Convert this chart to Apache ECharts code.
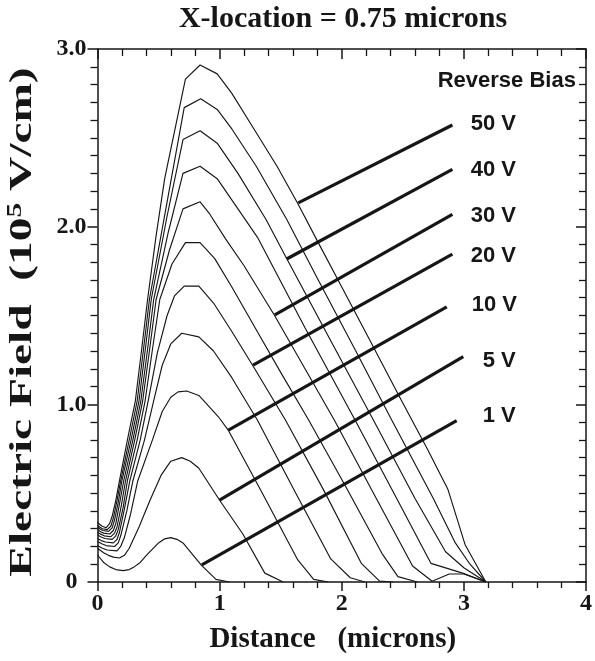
<!DOCTYPE html>
<html><head><meta charset="utf-8">
<script src="https://cdn.jsdelivr.net/npm/echarts/dist/echarts.min.js"></script>
<style>html,body{margin:0;padding:0;background:#fff}#c{width:595px;height:661px}</style>
</head><body><div id="c"></div>
<script>
// ---- Data (x in microns, y in 10^5 V/cm) ----
const xTickLabels = ['0', '1', '2', '3', '4'];
const yTickLabels = ['0', '1.0', '2.0', '3.0'];
const biasNames = ['1 V', '5 V', '10 V', '15 V', '20 V', '25 V', '30 V', '35 V', '40 V', '45 V', '50 V'];

const v1 = [[0,0.152],[0.05,0.11],[0.1,0.085],[0.15,0.07],[0.21,0.064],[0.26,0.07],[0.3,0.085],[0.35,0.11],[0.4,0.15],[0.5,0.22],[0.55,0.243],[0.6,0.25],[0.65,0.24],[0.7,0.22],[0.85,0.095],[0.97,0.015],[1.08,0]];
const v5 = [[0,0.19],[0.05,0.165],[0.09,0.15],[0.13,0.14],[0.18,0.135],[0.22,0.15],[0.26,0.19],[0.34,0.31],[0.43,0.46],[0.52,0.60],[0.60,0.68],[0.69,0.70],[0.76,0.68],[0.83,0.64],[1.0,0.46],[1.19,0.27],[1.37,0.05],[1.52,0]];
const v10 = [[0,0.205],[0.04,0.19],[0.08,0.18],[0.16,0.175],[0.19,0.20],[0.22,0.25],[0.27,0.38],[0.33,0.57],[0.45,0.80],[0.53,0.96],[0.60,1.04],[0.66,1.07],[0.73,1.075],[0.83,1.05],[0.99,0.93],[1.07,0.855],[1.35,0.50],[1.64,0.124],[1.77,0.015],[1.89,0]];
const v15 = [[0,0.228],[0.035,0.215],[0.07,0.205],[0.14,0.20],[0.17,0.22],[0.19,0.26],[0.24,0.40],[0.29,0.57],[0.385,0.80],[0.46,1.02],[0.53,1.22],[0.60,1.34],[0.69,1.40],[0.83,1.38],[0.95,1.30],[1.1,1.15],[1.31,0.91],[1.6,0.53],[1.91,0.13],[2.07,0.024],[2.19,0]];
const v20 = [[0,0.245],[0.03,0.233],[0.065,0.225],[0.13,0.22],[0.16,0.24],[0.18,0.28],[0.22,0.41],[0.265,0.57],[0.35,0.80],[0.415,1.02],[0.49,1.29],[0.57,1.50],[0.63,1.61],[0.71,1.665],[0.83,1.665],[0.95,1.57],[1.1,1.41],[1.27,1.22],[1.54,0.91],[1.85,0.52],[2.16,0.105],[2.31,0.005],[2.42,0]];
const v25 = [[0,0.265],[0.03,0.253],[0.06,0.245],[0.12,0.24],[0.15,0.26],[0.17,0.295],[0.21,0.42],[0.245,0.57],[0.325,0.80],[0.39,1.02],[0.45,1.31],[0.51,1.59],[0.61,1.79],[0.72,1.91],[0.84,1.91],[0.96,1.82],[1.1,1.66],[1.3,1.42],[1.5,1.18],[1.73,0.91],[2.03,0.54],[2.33,0.16],[2.46,0.03],[2.62,0]];
const v30 = [[0,0.28],[0.03,0.268],[0.055,0.26],[0.11,0.255],[0.14,0.275],[0.16,0.31],[0.195,0.43],[0.23,0.57],[0.305,0.80],[0.37,1.02],[0.425,1.30],[0.48,1.59],[0.59,1.87],[0.70,2.10],[0.84,2.14],[0.92,2.07],[1.05,1.93],[1.2,1.78],[1.45,1.50],[1.94,0.91],[2.26,0.50],[2.58,0.09],[2.74,0.004],[2.88,0.045],[3.0,0.045],[3.18,0]];
const v35 = [[0,0.295],[0.025,0.283],[0.05,0.275],[0.10,0.27],[0.13,0.29],[0.15,0.33],[0.18,0.44],[0.215,0.57],[0.29,0.80],[0.355,1.02],[0.41,1.31],[0.46,1.59],[0.58,1.97],[0.70,2.30],[0.84,2.34],[0.98,2.27],[1.15,2.10],[1.31,1.94],[1.7,1.43],[2.11,0.91],[2.45,0.47],[2.73,0.105],[2.99,0.05],[3.18,0]];
const v40 = [[0,0.31],[0.02,0.298],[0.045,0.29],[0.09,0.285],[0.12,0.305],[0.14,0.35],[0.17,0.45],[0.20,0.57],[0.275,0.80],[0.34,1.02],[0.39,1.30],[0.44,1.59],[0.57,2.06],[0.70,2.49],[0.84,2.54],[0.98,2.47],[1.15,2.30],[1.38,2.04],[1.55,1.82],[1.9,1.37],[2.26,0.91],[2.6,0.47],[2.85,0.17],[3.0,0.08],[3.18,0]];
const v45 = [[0,0.32],[0.02,0.308],[0.04,0.30],[0.08,0.295],[0.11,0.315],[0.13,0.36],[0.16,0.46],[0.19,0.57],[0.26,0.80],[0.325,1.02],[0.375,1.30],[0.425,1.59],[0.57,2.14],[0.71,2.67],[0.845,2.72],[0.98,2.66],[1.1,2.55],[1.3,2.34],[1.55,2.04],[1.8,1.71],[2.1,1.32],[2.41,0.91],[2.75,0.47],[2.93,0.22],[3.05,0.10],[3.18,0]];
const v50 = [[0,0.335],[0.035,0.315],[0.07,0.305],[0.1,0.33],[0.12,0.37],[0.15,0.46],[0.18,0.57],[0.245,0.80],[0.31,1.02],[0.36,1.30],[0.41,1.59],[0.48,1.95],[0.55,2.27],[0.72,2.83],[0.84,2.91],[0.98,2.86],[1.1,2.75],[1.29,2.54],[1.47,2.34],[1.64,2.13],[1.80,1.92],[2.0,1.66],[2.2,1.40],[2.49,1.02],[2.7,0.75],[2.87,0.52],[3.01,0.21],[3.18,0]];
const curves = [v1, v5, v10, v15, v20, v25, v30, v35, v40, v45, v50];

// leader lines (data coords)
const leaderNames = ['50 V', '40 V', '30 V', '20 V', '10 V', '5 V', '1 V'];
const lead50 = [[1.644,2.134],[2.906,2.572]];
const lead40 = [[1.549,1.818],[2.906,2.322]];
const lead30 = [[1.452,1.503],[2.906,2.069]];
const lead20 = [[1.274,1.221],[2.906,1.846]];
const lead10 = [[1.072,0.855],[2.860,1.549]];
const lead5  = [[0.999,0.461],[2.995,1.268]];
const lead1  = [[0.854,0.096],[2.941,0.908]];
const leaders = [lead50, lead40, lead30, lead20, lead10, lead5, lead1];

// ---- Chart ----
const chart = echarts.init(document.getElementById('c'), null, {renderer: 'canvas'});
const INK = '#161616';
const serif = 'Liberation Serif, Times New Roman, serif';
const sans = 'Liberation Sans, Arial, sans-serif';

function axisCommon(extra) {
  return Object.assign({
    type: 'value',
    axisLine: {show: true, onZero: false, lineStyle: {color: INK, width: 1.5}},
    splitLine: {show: false},
    minorSplitLine: {show: false}
  }, extra);
}

const series = [];
curves.forEach((c, i) => {
  series.push({
    name: biasNames[i], type: 'line', data: c, showSymbol: false, smooth: false,
    xAxisIndex: 0, yAxisIndex: 0,
    lineStyle: {color: INK, width: 1.15}, silent: true, z: 2
  });
});
leaders.forEach((l, i) => {
  series.push({
    name: 'lead ' + leaderNames[i], type: 'line', data: l, showSymbol: false,
    xAxisIndex: 0, yAxisIndex: 0,
    lineStyle: {color: INK, width: 3.2, cap: 'butt'}, silent: true, z: 3
  });
});

const legendPos = [[470.7,123],[470.7,169.4],[470.7,214.8],[470.7,255.4],[471.7,303.8],[482.7,360.4],[482.7,415.4]];
const graphics = [
  {type: 'text', x: 343, y: 19, style: {text: 'X-location = 0.75 microns', font: 'bold 30px ' + serif, fill: INK, textAlign: 'center', textVerticalAlign: 'middle'}},
  {type: 'text', x: 437.7, y: 80.5, style: {text: 'Reverse Bias', font: 'bold 22px ' + sans, fill: INK, textAlign: 'left', textVerticalAlign: 'middle'}},
  {type: 'text', x: 23, y: 322, rotation: Math.PI / 2, scaleX: 1.48, scaleY: 1,
    style: {text: 'Electric Field  (10{sup|5} V/cm)', fontFamily: serif, fontWeight: 'bold', fontSize: 32, lineHeight: 34, fill: INK,
      textAlign: 'center', textVerticalAlign: 'middle',
      rich: {sup: {fontFamily: serif, fontWeight: 'bold', fontSize: 20, lineHeight: 34, fill: INK, verticalAlign: 'top', padding: [0, 0, 12, 0]}}}}
];
leaderNames.forEach((n, i) => {
  graphics.push({type: 'text', x: legendPos[i][0], y: legendPos[i][1] + 1, style: {text: n, font: 'bold 22px ' + sans, fill: INK, textAlign: 'left', textVerticalAlign: 'middle'}});
});

chart.setOption({
  animation: false,
  backgroundColor: '#fff',
  grid: {left: 97.5, top: 49, width: 494.5, height: 533, containLabel: false},
  xAxis: [
    axisCommon({
      min: 0, max: 4, interval: 1, position: 'bottom',
      axisTick: {show: true, inside: false, length: 9, lineStyle: {color: INK, width: 1.5}},
      minorTick: {show: true, splitNumber: 5, length: 6, lineStyle: {color: INK, width: 1.3}},
      axisLabel: {show: true, margin: 10, color: INK, fontFamily: serif, fontWeight: 'bold', fontSize: 24,
        formatter: v => xTickLabels[Math.round(v)]},
      name: 'Distance   (microns)', nameLocation: 'middle', nameGap: 43,
      nameTextStyle: {color: INK, fontFamily: serif, fontWeight: 'bold', fontSize: 29, padding: [0, 18, 0, 0]}
    }),
    axisCommon({
      min: 0, max: 4, interval: 1, position: 'top',
      axisTick: {show: true, inside: true, length: 10, lineStyle: {color: INK, width: 1.5}},
      minorTick: {show: true, splitNumber: 5, length: 7, lineStyle: {color: INK, width: 1.3}},
      axisLabel: {show: false}
    })
  ],
  yAxis: [
    axisCommon({
      min: 0, max: 3, interval: 1, position: 'left',
      axisTick: {show: true, inside: false, length: 10, lineStyle: {color: INK, width: 1.5}},
      minorTick: {show: true, splitNumber: 10, length: 7, lineStyle: {color: INK, width: 1.3}},
      axisLabel: {show: true, margin: 26, align: 'center', color: INK, fontFamily: serif, fontWeight: 'bold', fontSize: 24,
        formatter: v => yTickLabels[Math.round(v)]}
    }),
    axisCommon({
      min: 0, max: 3, interval: 1, position: 'right',
      axisTick: {show: true, inside: true, length: 10, lineStyle: {color: INK, width: 1.5}},
      minorTick: {show: true, splitNumber: 10, length: 7, lineStyle: {color: INK, width: 1.3}},
      axisLabel: {show: false}
    })
  ],
  graphic: graphics,
  series: series
});
</script></body></html>
